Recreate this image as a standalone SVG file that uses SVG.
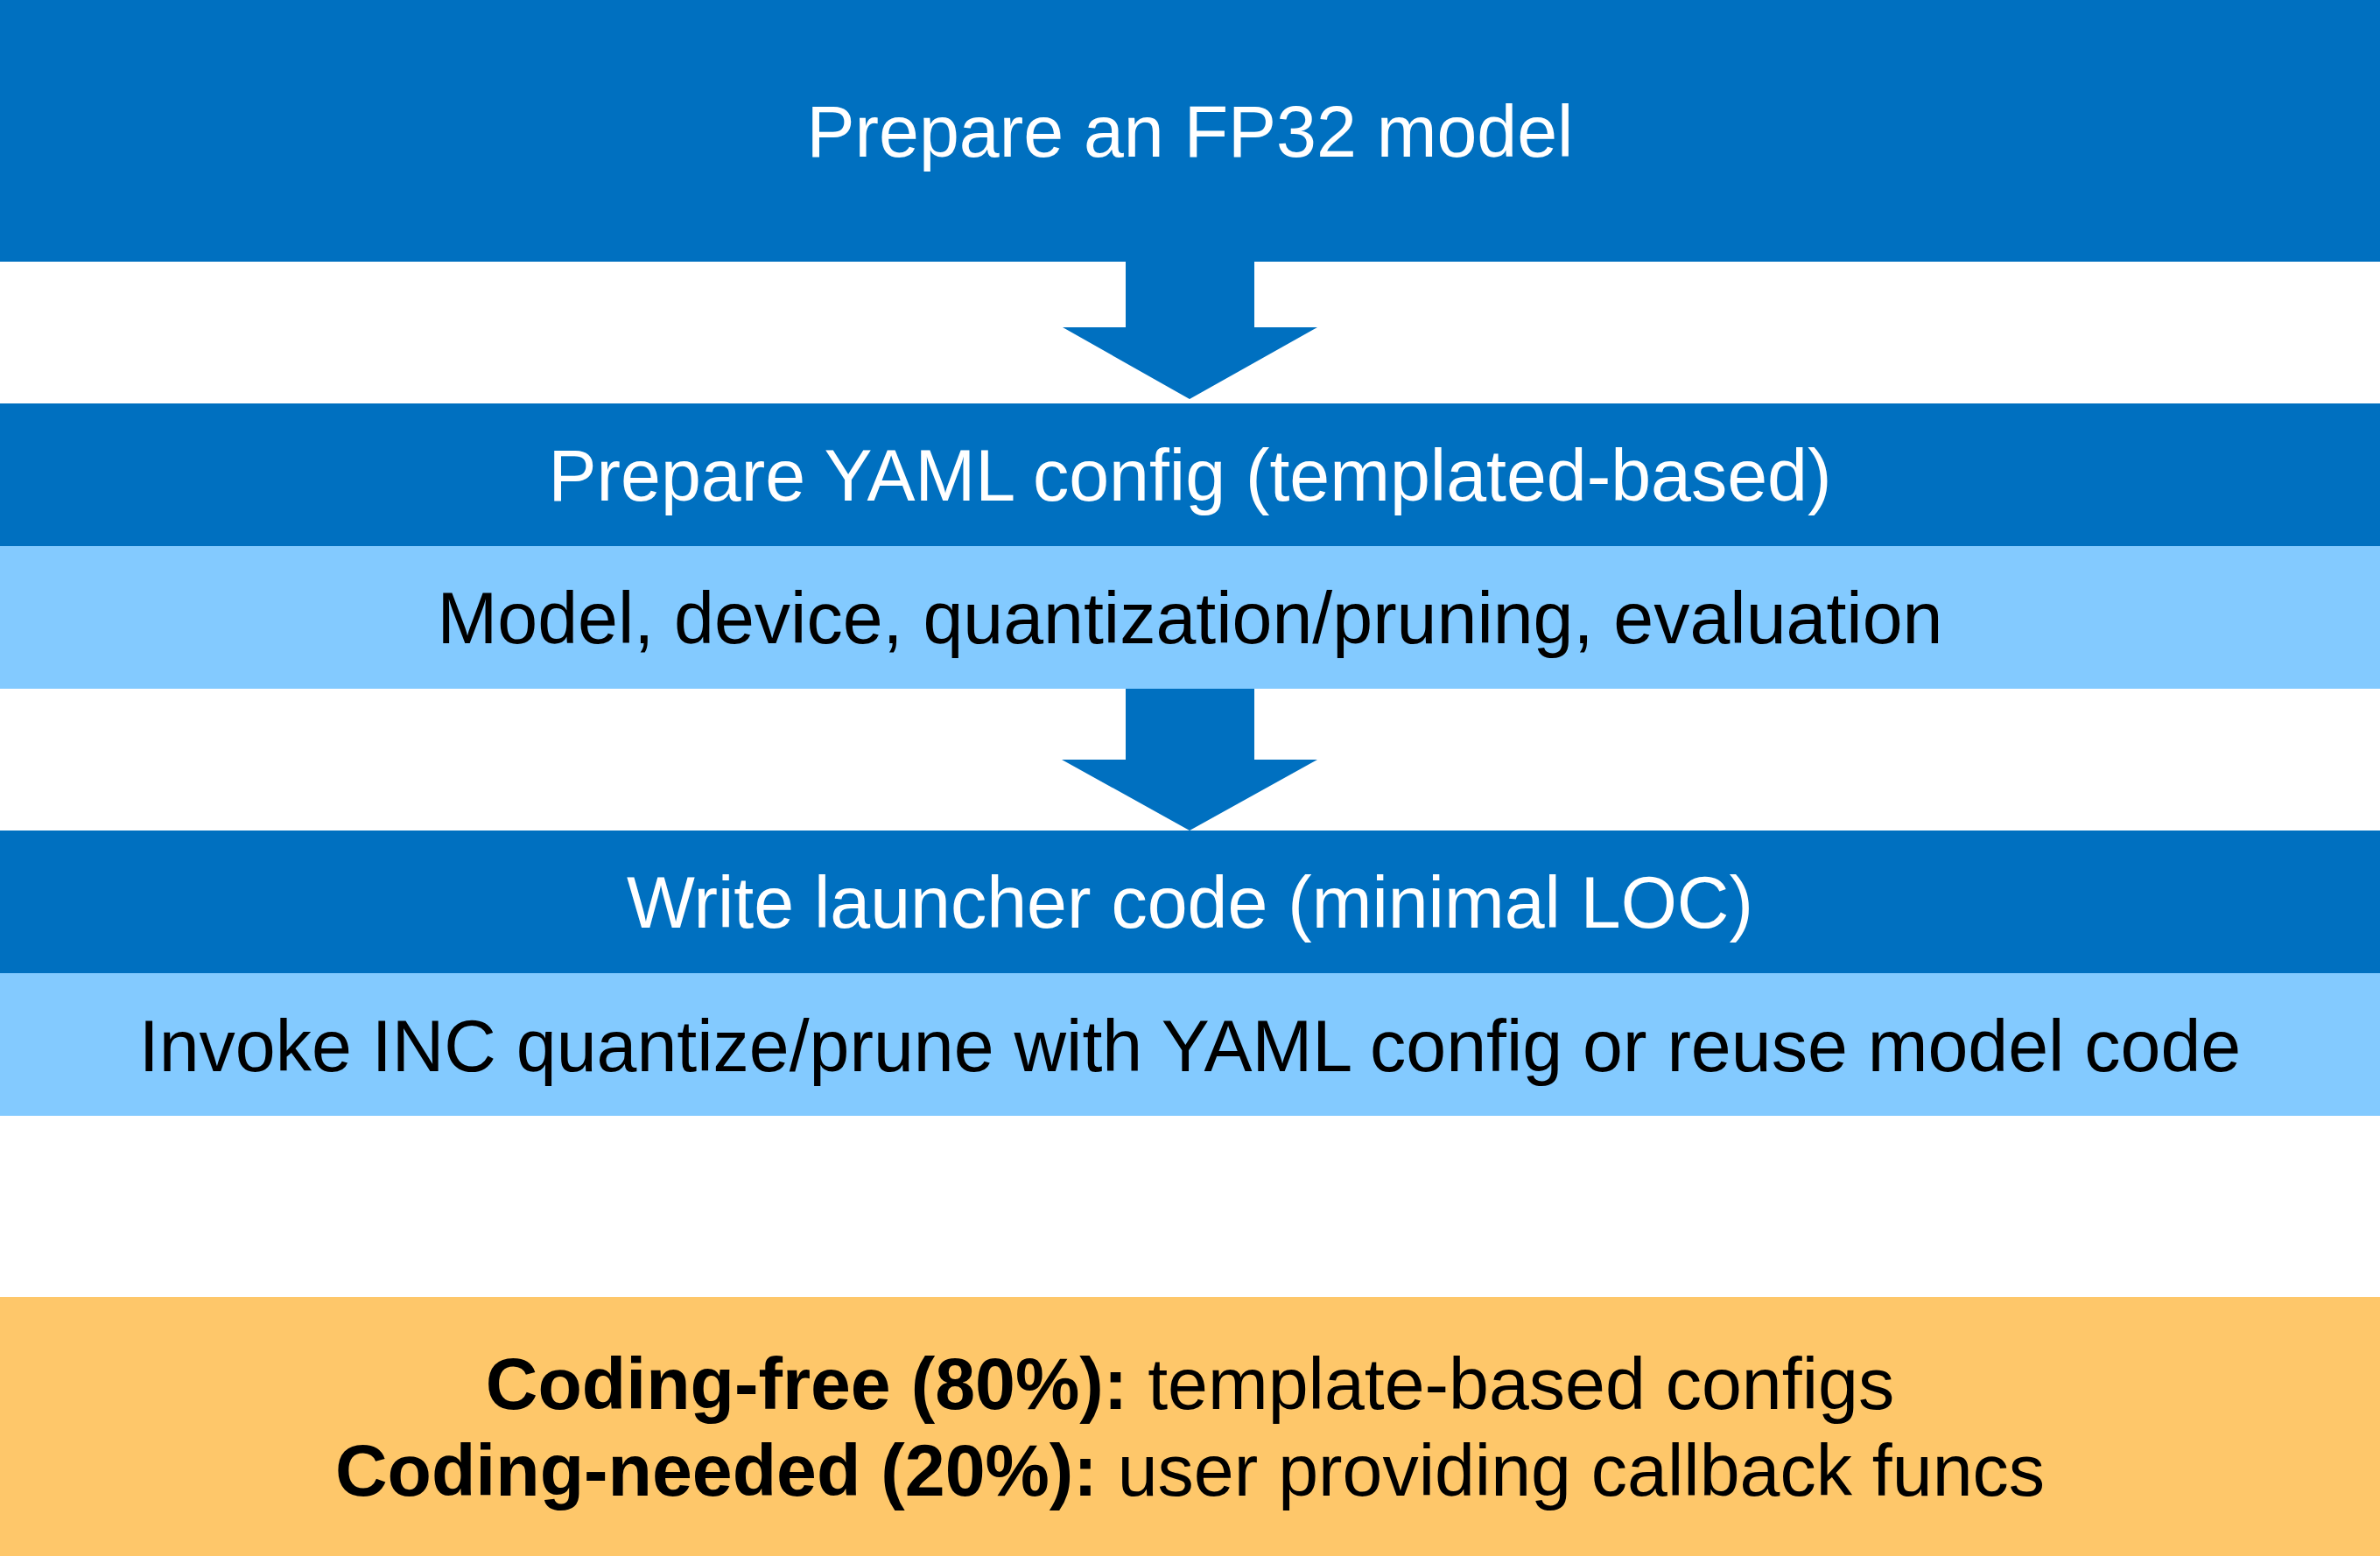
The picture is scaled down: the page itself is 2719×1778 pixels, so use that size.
<svg xmlns="http://www.w3.org/2000/svg" width="2719" height="1778" viewBox="0 0 2719 1778">
<style>
.dark{fill:#0070C0}
.light{fill:#83CAFF}
.note{fill:#FEC76A}
.t{font-family:"Liberation Sans",Arial,sans-serif;font-size:82.5px;text-anchor:middle}
.w{fill:#FFFFFF}
.k{fill:#000000}
.b{font-weight:bold}
</style>
<rect width="2719" height="1778" fill="#FFFFFF"/>
<g id="step1">
<rect class="dark" x="0" y="0" width="2719" height="299"/>
<text class="t w" x="1359.5" y="179">Prepare an FP32 model</text>
</g>
<g id="step2">
<rect class="dark" x="0" y="461" width="2719" height="163"/>
<text class="t w" x="1359.5" y="572">Prepare YAML config (templated-based)</text>
<rect class="light" x="0" y="624" width="2719" height="163"/>
<text class="t k" x="1359.5" y="735">Model, device, quantization/pruning, evaluation</text>
</g>
<g id="step3">
<rect class="dark" x="0" y="949" width="2719" height="163"/>
<text class="t w" x="1359.5" y="1060">Write launcher code (minimal LOC)</text>
<rect class="light" x="0" y="1112" width="2719" height="163"/>
<text class="t k" x="1359.5" y="1224">Invoke INC quantize/prune with YAML config or reuse model code</text>
</g>
<g id="note">
<rect class="note" x="0" y="1482" width="2719" height="296"/>
<text class="t k" x="1359.5" y="1610"><tspan class="b">Coding-free (80%):</tspan> template-based configs</text>
<text class="t k" x="1359.5" y="1709"><tspan class="b">Coding-needed (20%):</tspan> user providing callback funcs</text>
</g>
<g id="connectors">
<polygon class="dark" points="1286,299 1433,299 1433,374 1505,374 1359,456 1214,374 1286,374"/>
<polygon class="dark" points="1286,787 1433,787 1433,868 1505,868 1359,949 1213,868 1286,868"/>
</g>
</svg>
